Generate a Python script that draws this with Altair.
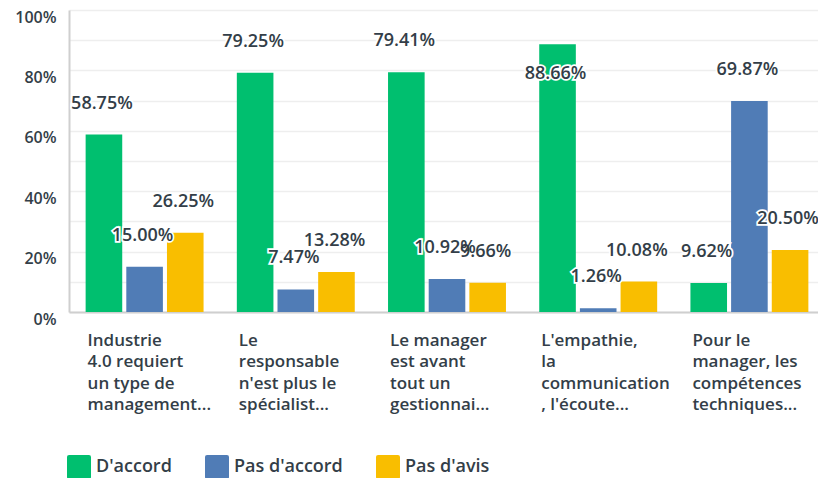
import altair as alt
import pandas as pd

categories = [
    "Industrie|4.0 requiert|un type de|management...",
    "Le|responsable|n'est plus le|spécialist...",
    "Le manager|est avant|tout un|gestionnai...",
    "L'empathie,|la|communication|, l'écoute...",
    "Pour le|manager, les|compétences|techniques...",
]
series = ["D'accord", "Pas d'accord", "Pas d'avis"]
d_accord = [58.75, 79.25, 79.41, 88.66, 9.62]
pas_d_accord = [15.00, 7.47, 10.92, 1.26, 69.87]
pas_d_avis = [26.25, 13.28, 9.66, 10.08, 20.50]
colors = ["#00bf6f", "#507cb6", "#f9be00"]
y_ticks = [0, 0.1, 0.2, 0.3, 0.4, 0.5, 0.6, 0.7, 0.8, 0.9, 1.0]

rows = []
for s, vals in zip(series, [d_accord, pas_d_accord, pas_d_avis]):
    for c, v in zip(categories, vals):
        rows.append({"cat": c, "serie": s, "value": v / 100.0, "label": f"{v:.2f}%"})
df = pd.DataFrame(rows)

FONT = "Open Sans"
TXT = "#333e48"

x = alt.X(
    "cat:N",
    sort=categories,
    scale=alt.Scale(paddingInner=0.22, paddingOuter=0.11, range=[0, 756]),
    axis=alt.Axis(
        title=None,
        labelExpr="split(datum.label, '|')",
        labelAngle=0,
        labelAlign="left",
        labelBaseline="top",
        labelOffset=-57,
        labelPadding=20,
        labelLineHeight=21.5,
        labelFont=FONT,
        labelFontSize=17,
        labelFontWeight=600,
        labelColor=TXT,
        ticks=False,
        domainColor="#cfcfcf",
        domainWidth=2,
        labelLimit=0,
    ),
)
xoff = alt.XOffset("serie:N", sort=series, scale=alt.Scale(paddingInner=0.1))
y = alt.Y(
    "value:Q",
    scale=alt.Scale(domain=[0, 1], nice=False),
    axis=alt.Axis(
        title=None,
        values=y_ticks,
        labelExpr="round(datum.value*10) % 2 == 0 ? format(datum.value, '.0%') : ''",
        labelFont=FONT,
        labelFontSize=16,
        labelFontWeight=600,
        labelColor=TXT,
        labelBaseline="middle",
        labelOffset=7,
        labelPadding=13,
        ticks=False,
        gridColor="#eeeeee",
        gridWidth=1.5,
        domainColor="#cfcfcf",
        domainWidth=2,
    ),
)
color = alt.Color(
    "serie:N",
    sort=series,
    scale=alt.Scale(domain=series, range=colors),
    legend=alt.Legend(
        title=None,
        orient="none",
        legendX=-2,
        legendY=445,
        direction="horizontal",
        symbolType="M -0.83 -1 L 0.83 -1 Q 1 -1 1 -0.83 L 1 0.83 Q 1 1 0.83 1 L -0.83 1 Q -1 1 -1 0.83 L -1 -0.83 Q -1 -1 -0.83 -1 Z",
        symbolSize=576,
        symbolStrokeWidth=0,
        symbolOpacity=1,
        labelFont=FONT,
        labelFontSize=18,
        labelFontWeight=600,
        labelColor=TXT,
        labelOffset=5,
        columnPadding=33,
    ),
)

base = alt.Chart(df)
bars = base.mark_bar().encode(x=x, xOffset=xoff, y=y, color=color)

above = base.transform_filter("datum.value <= 0.85")
inside = base.transform_filter("datum.value > 0.85")

def label_layers(src, dy):
    halo = src.mark_text(
        font=FONT, fontSize=18, fontWeight=600, dy=dy, dx=-2, baseline="middle",
        stroke="white", strokeWidth=3.5, color="white",
    ).encode(x=x, xOffset=xoff, y=y, text="label:N")
    txt = src.mark_text(
        font=FONT, fontSize=18, fontWeight=600, dy=dy, dx=-2, baseline="middle", color=TXT,
    ).encode(x=x, xOffset=xoff, y=y, text="label:N")
    return [halo, txt]

layers = [bars] + label_layers(above, -31) + label_layers(inside, 30)

chart = (
    alt.layer(*layers)
    .properties(
        width=749,
        height=302,
        autosize=alt.AutoSizeParams(type="none"),
        padding={"left": 61, "top": 2, "right": 0, "bottom": 166},
    )
    .configure_view(stroke=None)
)

chart.save("out.html", embed_options={"renderer": "svg", "actions": False})
